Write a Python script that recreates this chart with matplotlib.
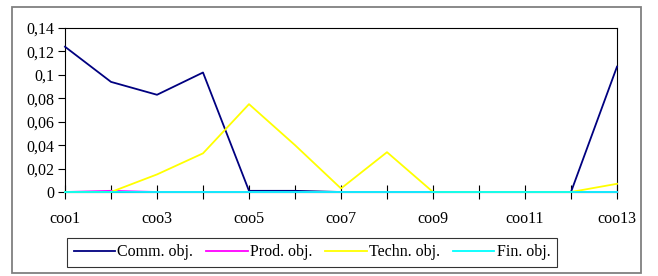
import matplotlib
matplotlib.use("Agg")
import matplotlib.pyplot as plt
from matplotlib.patches import Rectangle

categories = ["coo1", "coo2", "coo3", "coo4", "coo5", "coo6", "coo7",
              "coo8", "coo9", "coo10", "coo11", "coo12", "coo13"]
comm = [0.124, 0.094, 0.083, 0.102, 0.001, 0.001, 0.0, 0.0, 0.0, 0.0, 0.0, 0.0, 0.107]
prod = [0.0, 0.001, 0.0, 0.0, 0.0, 0.0, 0.0, 0.0, 0.0, 0.0, 0.0, 0.0, 0.0]
techn = [0.0, 0.0, 0.015, 0.033, 0.075, 0.04, 0.003, 0.034, 0.0, 0.0, 0.0, 0.0, 0.007]
fin = [0.0] * 13
ytick_vals = [0, 0.02, 0.04, 0.06, 0.08, 0.1, 0.12, 0.14]
ytick_labels = ["0", "0,02", "0,04", "0,06", "0,08", "0,1", "0,12", "0,14"]
series_names = ["Comm. obj.", "Prod. obj.", "Techn. obj.", "Fin. obj."]
colors = ["#000080", "#FF00FF", "#FFFF00", "#00FFFF"]

plt.rcParams['font.family'] = ['Liberation Serif', 'DejaVu Serif']

W, H = 658, 276
fig = plt.figure(figsize=(W / 100, H / 100), dpi=100)
fig.patch.set_facecolor("white")

# outer frame
fig.patches.append(Rectangle((12 / W, 1 - 273 / H), (641 - 12) / W, (273 - 7) / H,
                             transform=fig.transFigure, fill=False,
                             edgecolor="#808080", linewidth=1.3))

ax = fig.add_axes([65 / W, 1 - 192 / H, (617 - 65) / W, (192 - 28) / H])
x = list(range(len(categories)))
for vals, name, c in zip([comm, prod, techn, fin], series_names, colors):
    ax.plot(x, vals, color=c, linewidth=1.3, label=name, clip_on=False, zorder=3)

ax.set_xlim(0, len(categories) - 1)
ax.set_ylim(0, 0.14)
ax.set_yticks(ytick_vals)
ax.set_yticklabels(ytick_labels)
ax.set_xticks(x)
ax.set_xticklabels([c if i % 2 == 0 else "" for i, c in enumerate(categories)])
ax.tick_params(axis='y', direction='out', length=5, width=0.8, labelsize=11.5, pad=3)
ax.tick_params(axis='x', direction='inout', length=10, width=0.8, labelsize=11.5, pad=9)
for s in ax.spines.values():
    s.set_linewidth(0.8)
    s.set_color("black")

handles, labels = ax.get_legend_handles_labels()
leg = fig.legend(handles, labels, loc='center', ncol=4,
                 bbox_to_anchor=(312 / W, 1 - 252.5 / H),
                 fontsize=11.5, frameon=True, fancybox=False,
                 edgecolor="black", handlelength=2.6, handletextpad=0.15,
                 columnspacing=0.8, borderpad=0.4, borderaxespad=0)
leg.get_frame().set_linewidth(0.8)

fig.savefig("out.png", dpi=100, facecolor="white")
